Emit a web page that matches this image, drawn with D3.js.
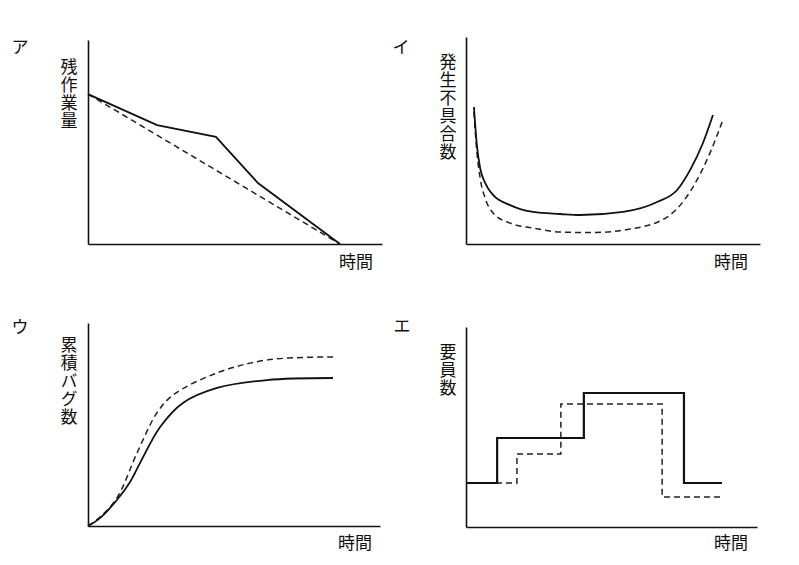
<!DOCTYPE html>
<html>
<head>
<meta charset="utf-8">
<script src="https://cdn.jsdelivr.net/npm/d3@7"></script>
<style>
  body { margin: 0; background: #fff; }
  text { font-family: "Noto Sans CJK JP", sans-serif; fill: #111; }
</style>
</head>
<body>
<script>
// panel ア : remaining work
var aPlan = [[0, 7.35], [8.57, 0]];
var aActual = [[0, 7.35], [2.35, 5.83], [4.35, 5.25], [5.78, 2.99], [8.57, 0]];

// panel イ : defects over time (bathtub)
var iSolid = [[0.27, 6.62], [0.37, 4.78], [0.48, 3.67], [0.65, 2.95], [0.92, 2.37], [1.5, 1.88],
  [2.28, 1.55], [3.2, 1.45], [3.88, 1.4], [5.34, 1.55], [6.5, 2.03], [7.18, 2.61], [7.62, 3.57],
  [8.06, 4.88], [8.4, 6.23]];
var iDash = [[0.27, 6.38], [0.37, 4.44], [0.48, 3.19], [0.65, 2.22], [0.92, 1.5], [1.5, 1.01],
  [2.28, 0.77], [3.2, 0.58], [4.22, 0.55], [5.58, 0.72], [6.84, 1.3], [7.72, 2.75], [8.3, 4.4],
  [8.71, 5.89]];

// panel ウ : cumulative bugs
var uSolid = [[0, 0], [0.41, 0.39], [0.99, 1.28], [1.44, 2.17], [1.78, 3.1], [2.47, 4.88],
  [3.25, 6.06], [4.42, 6.8], [6.13, 7.19], [8.39, 7.29]];
var uDash = [[0, 0], [0.41, 0.44], [0.99, 1.38], [1.68, 3.6], [2.36, 5.57], [2.91, 6.45],
  [4.42, 7.54], [6.13, 8.18], [8.53, 8.33]];

// panel エ : staff count (step)
var eSolid = [[0, 2.2], [1.07, 4.45], [4.05, 6.7], [7.49, 2.2], [8.8, 2.2]];
var eDash = [[0, 2.2], [1.75, 3.65], [3.26, 6.15], [6.74, 1.5], [8.8, 1.5]];

var panels = [
  { mark: "ア", label: "残作業量", x0: 88, x1: 382, y0: 244, y1: 40,
    markX: 20, markY: 45, labelX: 69, labelY: 58, timeX: 356, timeY: 260,
    solid: aActual, dash: aPlan, curve: d3.curveLinear },
  { mark: "イ", label: "発生不具合数", x0: 466, x1: 760, y0: 244, y1: 37,
    markX: 401, markY: 45, labelX: 448, labelY: 53, timeX: 731, timeY: 260,
    solid: iSolid, dash: iDash, curve: d3.curveMonotoneX },
  { mark: "ウ", label: "累積バグ数", x0: 88, x1: 380, y0: 526, y1: 323,
    markX: 20, markY: 325, labelX: 69, labelY: 336, timeX: 355, timeY: 541,
    solid: uSolid, dash: uDash, curve: d3.curveCatmullRom },
  { mark: "エ", label: "要員数", x0: 466, x1: 757, y0: 527, y1: 327,
    markX: 402, markY: 324, labelX: 448, labelY: 343, timeX: 731, timeY: 541,
    solid: eSolid, dash: eDash, curve: d3.curveStepAfter }
];

var svg = d3.select("body").append("svg")
  .attr("width", 799)
  .attr("height", 565);

panels.forEach(function (p) {
  var x = d3.scaleLinear().domain([0, 10]).range([p.x0, p.x1]);
  var y = d3.scaleLinear().domain([0, 10]).range([p.y0, p.y1]);
  var g = svg.append("g");

  // axes as plain lines without ticks
  g.append("g")
    .attr("transform", "translate(0," + p.y0 + ")")
    .call(d3.axisBottom(x).tickValues([]).tickSizeOuter(0))
    .select(".domain").attr("stroke", "#111").attr("stroke-width", 1.6);
  g.append("g")
    .attr("transform", "translate(" + p.x0 + ",0)")
    .call(d3.axisLeft(y).tickValues([]).tickSizeOuter(0))
    .select(".domain").attr("stroke", "#111").attr("stroke-width", 1.6);

  var line = d3.line()
    .x(function (d) { return x(d[0]); })
    .y(function (d) { return y(d[1]); })
    .curve(p.curve);

  g.append("path")
    .attr("d", line(p.dash))
    .attr("fill", "none")
    .attr("stroke", "#222")
    .attr("stroke-width", 1.5)
    .attr("stroke-dasharray", "6,4");

  g.append("path")
    .attr("d", line(p.solid))
    .attr("fill", "none")
    .attr("stroke", "#111")
    .attr("stroke-width", p.curve === d3.curveStepAfter ? 2.2 : 1.8);

  g.append("text")
    .attr("x", p.markX).attr("y", p.markY)
    .attr("text-anchor", "middle").attr("dominant-baseline", "central")
    .style("font-size", "17px")
    .text(p.mark);

  // vertical y label, one text element
  g.append("text")
    .attr("x", p.labelX).attr("y", p.labelY)
    .style("writing-mode", "vertical-rl")
    .style("text-orientation", "upright")
    .style("font-size", "17px")
    .style("letter-spacing", "1px")
    .text(p.label);

  g.append("text")
    .attr("x", p.timeX).attr("y", p.timeY)
    .attr("text-anchor", "middle").attr("dominant-baseline", "central")
    .style("font-size", "17px")
    .text("時間");
});
</script>
</body>
</html>
